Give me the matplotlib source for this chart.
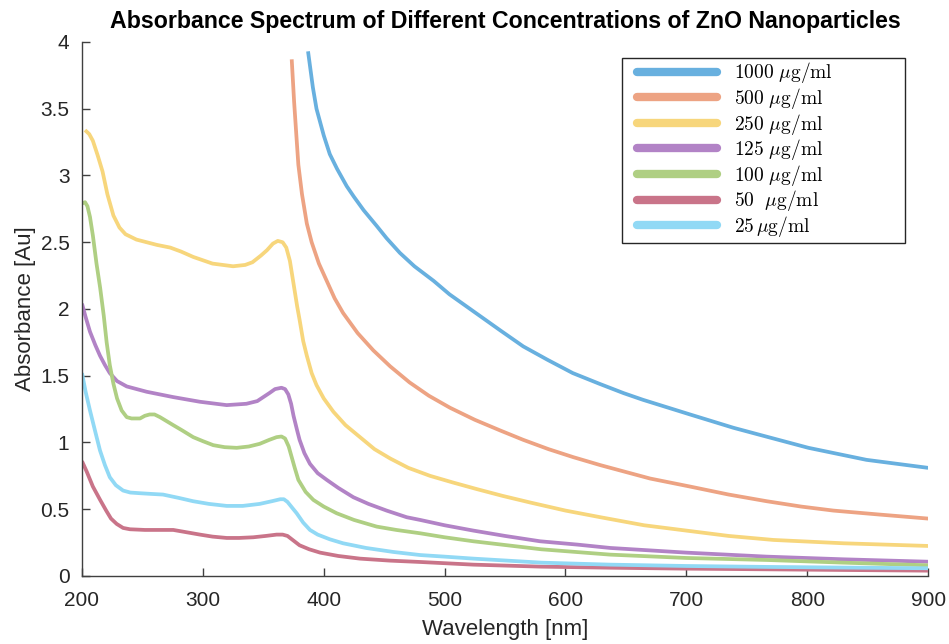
import matplotlib
matplotlib.use('Agg')
import matplotlib.pyplot as plt
from matplotlib.patches import Rectangle

plt.rcParams['font.family'] = ['Liberation Sans', 'DejaVu Sans']
plt.rcParams['mathtext.fontset'] = 'cm'

# Absorbance readings per concentration (wavelength [nm], absorbance [Au])
wl_1000 = [387, 391, 394, 400, 405, 411, 419, 425, 433, 444, 452, 463, 475, 491, 504, 518, 532, 546,
           565, 585, 606, 628, 648, 664, 703, 739, 772, 801, 849, 900]
ab_1000 = [3.93, 3.66, 3.50, 3.30, 3.16, 3.05, 2.92, 2.84, 2.74, 2.62, 2.53, 2.42, 2.32, 2.21, 2.11, 2.02,
           1.93, 1.84, 1.72, 1.62, 1.52, 1.44, 1.37, 1.32, 1.21, 1.11, 1.03, 0.96, 0.87, 0.81]

wl_500 = [373.5, 375.5, 377.5, 379, 382, 386, 390, 396, 402.5, 409, 416, 428, 441, 455, 471, 487, 504.5,
          525, 546, 565, 586, 606.5, 629, 670, 703, 735, 766.5, 795, 821.6, 860, 900]
ab_500 = [3.87, 3.55, 3.28, 3.08, 2.86, 2.64, 2.50, 2.34, 2.21, 2.08, 1.97, 1.82, 1.69, 1.57, 1.45, 1.35,
          1.26, 1.17, 1.09, 1.02, 0.95, 0.89, 0.83, 0.73, 0.67, 0.61, 0.56, 0.52, 0.49, 0.46, 0.43]

wl_250 = [202.5, 206, 209, 213, 217, 221, 226, 231, 236, 245, 262, 273, 282, 292, 308, 325, 335, 341,
          348, 353, 358, 362, 366, 369, 372, 375, 378, 380, 383, 386, 390, 394, 400, 408, 418, 430,
          442, 455, 470, 488, 507, 527, 548, 571, 600, 629, 665, 700, 735, 772, 830, 900]
ab_250 = [3.34, 3.31, 3.26, 3.15, 3.03, 2.86, 2.70, 2.61, 2.56, 2.52, 2.48, 2.46, 2.43, 2.39, 2.34, 2.32,
          2.33, 2.35, 2.40, 2.44, 2.49, 2.51, 2.50, 2.46, 2.36, 2.19, 2.02, 1.92, 1.76, 1.65, 1.52, 1.43,
          1.33, 1.23, 1.13, 1.04, 0.95, 0.88, 0.81, 0.75, 0.70, 0.65, 0.60, 0.55, 0.49, 0.44, 0.38,
          0.34, 0.30, 0.27, 0.245, 0.225]

wl_125 = [200, 203, 206.6, 211, 214.9, 219, 223, 229, 237, 253.5, 275.5, 297.6, 319.7, 336, 345, 350,
          355, 359.7, 365, 368, 370.7, 373, 375, 378, 380, 384, 388.6, 395, 402.5, 412, 424.5, 437,
          452, 468.7, 479.7, 500, 523.8, 550, 579, 610, 637, 700, 766.5, 830, 900]
ab_125 = [2.04, 1.94, 1.83, 1.73, 1.65, 1.58, 1.52, 1.46, 1.42, 1.38, 1.34, 1.305, 1.28, 1.29, 1.31, 1.34,
          1.37, 1.40, 1.41, 1.40, 1.36, 1.29, 1.20, 1.09, 1.02, 0.92, 0.84, 0.77, 0.72, 0.66, 0.59, 0.54,
          0.49, 0.44, 0.42, 0.38, 0.34, 0.30, 0.26, 0.235, 0.21, 0.175, 0.145, 0.125, 0.107]

wl_100 = [200, 202.5, 204.5, 206.6, 209, 212, 215, 218, 220.4, 223, 226, 229, 232.8, 237, 241, 248,
          252, 256, 260, 264.5, 270, 275.5, 283, 292, 300, 308.6, 318, 328, 338, 347, 355, 361, 365,
          368, 371, 373.5, 376, 379, 385, 391.4, 400, 410.7, 425, 443.8, 460, 479.7, 500, 523.8, 580,
          637, 700, 766.5, 830, 900]
ab_100 = [2.79, 2.80, 2.77, 2.69, 2.55, 2.34, 2.16, 1.95, 1.75, 1.58, 1.44, 1.33, 1.24, 1.19, 1.18, 1.18,
          1.20, 1.21, 1.21, 1.19, 1.16, 1.13, 1.09, 1.04, 1.01, 0.98, 0.965, 0.96, 0.97, 0.99, 1.02, 1.04,
          1.045, 1.03, 0.97, 0.89, 0.81, 0.72, 0.63, 0.57, 0.52, 0.47, 0.42, 0.37, 0.345, 0.32, 0.29,
          0.26, 0.20, 0.16, 0.135, 0.12, 0.10, 0.08]

wl_50 = [200, 204, 209, 215, 220, 224, 228.7, 234, 239.7, 252, 264.5, 275.5, 285, 297.6, 308, 319.7,
         330, 341.7, 352, 361, 366, 370, 375, 380, 388, 397, 412, 430, 455, 479.7, 523.8, 580, 637,
         700, 766.5, 830, 900]
ab_50 = [0.86, 0.78, 0.67, 0.57, 0.49, 0.43, 0.39, 0.36, 0.35, 0.345, 0.345, 0.345, 0.33, 0.31, 0.295,
         0.285, 0.285, 0.29, 0.30, 0.31, 0.31, 0.30, 0.265, 0.23, 0.20, 0.175, 0.15, 0.13, 0.115, 0.105,
         0.085, 0.07, 0.062, 0.055, 0.05, 0.045, 0.04]

wl_25 = [200, 203, 206.6, 211, 214.9, 219, 223, 228, 234, 240, 248, 257, 267, 280, 292, 305, 319.7,
         333, 347, 357, 364, 367, 370, 374, 377.6, 383, 388.6, 395, 405, 416, 435, 457.6, 479.7, 500,
         524, 580, 637, 700, 766.5, 830, 900]
ab_25 = [1.52, 1.38, 1.24, 1.08, 0.94, 0.83, 0.74, 0.68, 0.64, 0.625, 0.62, 0.615, 0.61, 0.585, 0.56,
         0.54, 0.525, 0.525, 0.54, 0.56, 0.575, 0.575, 0.555, 0.51, 0.47, 0.40, 0.345, 0.31, 0.275,
         0.245, 0.21, 0.18, 0.157, 0.145, 0.13, 0.10, 0.085, 0.075, 0.068, 0.063, 0.058]

labels = [r'$\mathrm{1000}\ \mu\mathrm{g/ml}$', r'$\mathrm{500}\ \mu\mathrm{g/ml}$',
          r'$\mathrm{250}\ \mu\mathrm{g/ml}$', r'$\mathrm{125}\ \mu\mathrm{g/ml}$',
          r'$\mathrm{100}\ \mu\mathrm{g/ml}$', r'$\mathrm{50}\ \ \mu\mathrm{g/ml}$',
          r'$\mathrm{25}\,\mu\mathrm{g/ml}$']
colors = ['#68B0DF', '#EDA383', '#F7D67C', '#B283C6', '#AFCF83', '#C97489', '#91D9F5']

series = [(wl_1000, ab_1000), (wl_500, ab_500), (wl_250, ab_250), (wl_125, ab_125),
          (wl_100, ab_100), (wl_50, ab_50), (wl_25, ab_25)]

fig = plt.figure(figsize=(9.49, 6.44), dpi=100)
ax = fig.add_axes([0.0864, 0.1056, 0.8916, 0.8292])

for (wl, ab), lab, c in zip(series, labels, colors):
    ax.plot(wl, ab, color=c, lw=2.7, label=lab, solid_joinstyle='round', solid_capstyle='butt')

ax.set_xlim(200, 900)
ax.set_ylim(0, 4)
ax.set_xticks(range(200, 901, 100))
ax.set_yticks([0, 0.5, 1, 1.5, 2, 2.5, 3, 3.5, 4])
ax.set_yticklabels(['0', '0.5', '1', '1.5', '2', '2.5', '3', '3.5', '4'])

for s in ['top', 'right']:
    ax.spines[s].set_visible(False)
for s in ['left', 'bottom']:
    ax.spines[s].set_color('#404040')
    ax.spines[s].set_linewidth(1.0)
ax.tick_params(direction='in', length=6, width=1, colors='#404040', labelcolor='#262626',
               labelsize=15)
ax.tick_params(axis='x', pad=11)
ax.tick_params(axis='y', pad=9)

ax.set_xlabel('Wavelength [nm]', fontsize=16, color='#262626', labelpad=6)
ax.set_ylabel('Absorbance [Au]', fontsize=16, color='#262626', labelpad=3)
ax.set_title('Absorbance Spectrum of Different Concentrations of ZnO Nanoparticles',
             fontsize=16.7, fontweight='bold', pad=10)

# legend box drawn separately so it can be wider than its entries
box = Rectangle((0.6383, 0.6236), 0.3345, 0.3464, transform=ax.transAxes,
                facecolor='white', edgecolor='#262626', lw=1.0, zorder=5)
ax.add_patch(box)
leg = ax.legend(loc='upper left', bbox_to_anchor=(0.656, 0.9654), borderaxespad=0,
                fontsize=14, handlelength=4.1, handletextpad=0.9, labelspacing=0.03,
                borderpad=0, frameon=False)
leg.set_zorder(6)
for h in leg.get_lines():
    h.set_linewidth(6)
    h.set_solid_capstyle('round')

fig.savefig('out.png', dpi=100)
